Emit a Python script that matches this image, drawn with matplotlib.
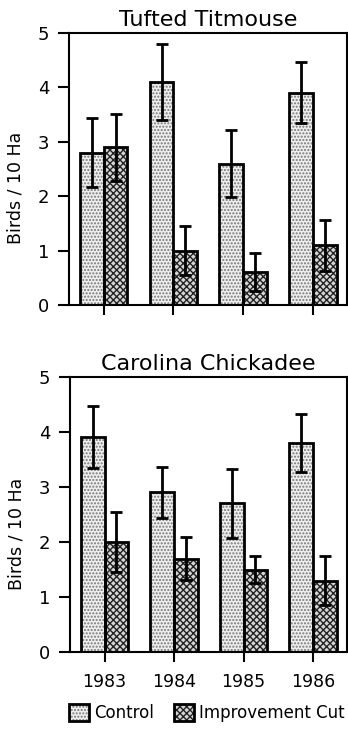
import numpy as np
import matplotlib
matplotlib.use("Agg")
import matplotlib.pyplot as plt
from matplotlib.legend_handler import HandlerTuple

plt.rcParams['font.family'] = ['DejaVu Sans']
plt.rcParams['hatch.linewidth'] = 1.0

years = ["1983", "1984", "1985", "1986"]
species = ["Tufted Titmouse", "Carolina Chickadee"]

# Birds per 10 ha, mean and error bar half length
titmouse_control = [2.8, 4.1, 2.6, 3.9]
titmouse_control_err = [0.63, 0.7, 0.62, 0.56]
titmouse_cut = [2.9, 1.0, 0.6, 1.1]
titmouse_cut_err = [0.62, 0.45, 0.35, 0.47]

chickadee_control = [3.9, 2.9, 2.7, 3.8]
chickadee_control_err = [0.56, 0.46, 0.63, 0.53]
chickadee_cut = [2.0, 1.7, 1.5, 1.3]
chickadee_cut_err = [0.54, 0.39, 0.24, 0.45]

fig = plt.figure(figsize=(3.48, 7.30), dpi=100)
ax1 = fig.add_axes([0.198, 0.5822, 0.799, 0.3726])
ax2 = fig.add_axes([0.201, 0.1064, 0.796, 0.3776])

x = np.arange(len(years))
w = 0.34

panels = [
    (ax1, species[0], titmouse_control, titmouse_control_err, titmouse_cut, titmouse_cut_err),
    (ax2, species[1], chickadee_control, chickadee_control_err, chickadee_cut, chickadee_cut_err),
]

handles = None
for ax, name, ctrl, ctrl_err, cut, cut_err in panels:
    # fill with hatch, then black outline on top
    f1 = ax.bar(x - w / 2, ctrl, w, color='#eeeeee', edgecolor='#777777',
                hatch='.....', linewidth=0, zorder=2)
    o1 = ax.bar(x - w / 2, ctrl, w, fill=False, edgecolor='black',
                linewidth=2, zorder=3)
    f2 = ax.bar(x + w / 2, cut, w, color='#d6d6d6', edgecolor='#222222',
                hatch='xxxxx', linewidth=0, zorder=2)
    o2 = ax.bar(x + w / 2, cut, w, fill=False, edgecolor='black',
                linewidth=2, zorder=3)
    ax.errorbar(x - w / 2, ctrl, yerr=ctrl_err, fmt='none', ecolor='black',
                elinewidth=2, capsize=4.5, capthick=2, zorder=4)
    ax.errorbar(x + w / 2, cut, yerr=cut_err, fmt='none', ecolor='black',
                elinewidth=2, capsize=4.5, capthick=2, zorder=4)
    if handles is None:
        handles = [(f1, o1), (f2, o2)]

    ax.set_ylim(0, 5)
    ax.set_xlim(-0.5, 3.49)
    ax.set_yticks(range(6))
    ax.set_xticks(x)
    ax.set_title(name, fontsize=16, pad=5)
    ax.set_ylabel("Birds / 10 Ha", fontsize=12.5)
    ax.yaxis.set_label_coords(-0.16, 0.43)
    for s in ax.spines.values():
        s.set_linewidth(1.5)
    ax.tick_params(axis='y', direction='out', length=8, width=1.5,
                   labelsize=13, pad=6)
    ax.tick_params(axis='x', direction='out', length=7, width=1.5,
                   labelsize=12.5, pad=8)

ax1.set_xticklabels([])
ax2.set_xticklabels(years)

fig.legend(handles, ["Control", "Improvement Cut"],
           handler_map={tuple: HandlerTuple(ndivide=1, pad=0)},
           loc='center', bbox_to_anchor=(0.595, 0.023), ncol=2, frameon=False,
           fontsize=12, handlelength=1.2, handleheight=1.2,
           handletextpad=0.3, columnspacing=1.2, borderpad=0)

fig.savefig("out.png", dpi=100)
